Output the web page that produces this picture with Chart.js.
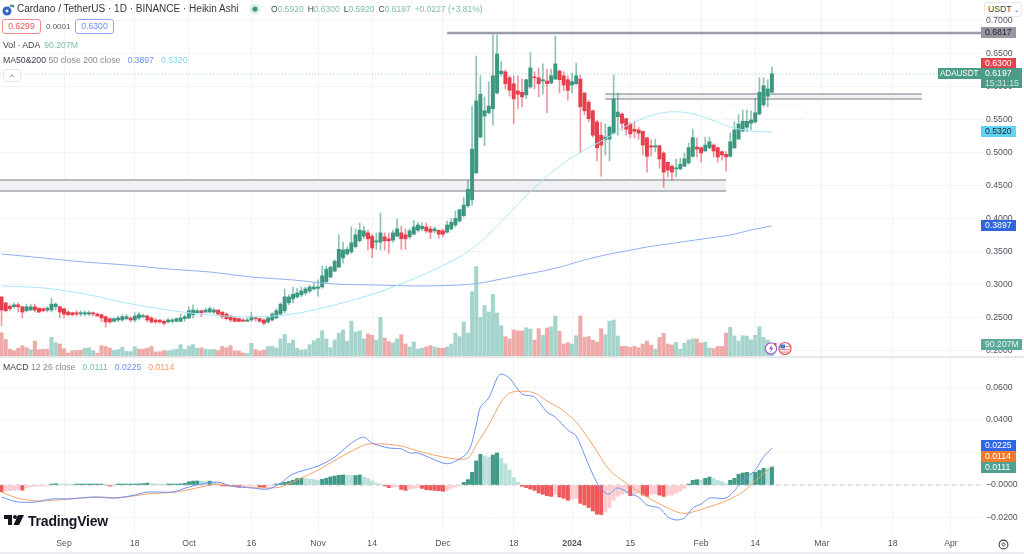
<!DOCTYPE html>
<html>
<head>
<meta charset="utf-8">
<script src="https://cdn.jsdelivr.net/npm/chart.js@4/dist/chart.umd.js"></script>
<style>
  html, body { margin: 0; padding: 0; background: #fff; }
  body { width: 1024px; height: 554px; overflow: hidden; position: relative; font-family: "Liberation Sans", sans-serif; color: #3c3f4a; }
  canvas { position: absolute; left: 0; top: 0; }
  .t { position: absolute; white-space: nowrap; font-size: 8.7px; line-height: 12px; }
  .tag { position: absolute; font-size: 8.7px; line-height: 11px; height: 11px; padding-left: 4px; color: #fff; white-space: nowrap; }
  .box { position: absolute; box-sizing: border-box; border-radius: 3px; font-size: 8.7px; line-height: 13px; text-align: center; background: #fff; }
  .gl { color: #7fbcae; } .b { color: #6c8ff5; } .c { color: #7fd8f5; } .o { color: #f59a5c; } .m { color: #85888f; }
  .sp { margin-left: 4px; }
  .sw { margin-left: 7px; }
  #drawnBox { position: absolute; left: 723px; top: 105px; width: 82px; height: 13px; border-radius: 3px; box-shadow: 0 0 2px #e2e3e6; background: #fff; }
  #sep { position: absolute; left: 0; top: 356px; width: 1024px; height: 2px; background: #e7e7e9; }
  #foot { position: absolute; left: 0; top: 552px; width: 1024px; height: 2px; background: #eceef2; }
</style>
</head>
<body>
<div id="drawnBox"></div>
<canvas id="chart" width="1024" height="554"></canvas>
<div id="sep"></div>
<div id="foot"></div>

<svg style="position:absolute;left:2px;top:3px" width="13" height="13" viewBox="0 0 13 13">
  <circle cx="5" cy="8" r="4.5" fill="#3567c8"/><circle cx="5" cy="8" r="1.4" fill="#fff"/>
  <path d="M7 3 A4 4 0 0 1 12 2 L12 5 A3 3 0 0 0 9 4 Z" fill="#3f9a8a"/>
</svg>
<div class="t" style="left:17px;top:2px;font-size:10px;line-height:14px;color:#33353d">Cardano / TetherUS · 1D · BINANCE · Heikin Ashi</div>
<svg style="position:absolute;left:249px;top:3px" width="12" height="12"><circle cx="6" cy="6" r="5.5" fill="#dff0ec"/><circle cx="6" cy="6" r="2.6" fill="#3d9882"/></svg>
<div class="t" style="left:271px;top:3px;font-size:8.5px;color:#44464f">O<span class="gl">0.5920</span><span class="sp">H</span><span class="gl">0.6300</span><span class="sp">L</span><span class="gl">0.5920</span><span class="sp">C</span><span class="gl">0.6197</span><span class="gl sp">+0.0227 (+3.81%)</span></div>
<div class="box" style="left:2px;top:19px;width:39px;height:15px;border:1px solid #ef8c90;color:#ea5c62">0.6299</div>
<div class="t" style="left:46px;top:21px;font-size:8px;color:#55575f">0.0001</div>
<div class="box" style="left:75px;top:19px;width:39px;height:15px;border:1px solid #8ca6f7;color:#6c8ff5">0.6300</div>
<div class="t" style="left:3px;top:39px">Vol · ADA<span class="gl sp">90.207M</span></div>
<div class="t" style="left:3px;top:54px">MA50&amp;200 <span class="m">50 close 200 close</span><span class="b sw">0.3897</span><span class="c sw">0.5320</span></div>
<div class="box" style="left:3px;top:69px;width:18px;height:13px;border:1px solid #e6e7ea;color:#55575f;line-height:14px;font-size:8px">^</div>
<div class="t" style="left:3px;top:361px">MACD <span class="m">12 26 close</span><span class="gl sw">0.0111</span><span class="b sw">0.0225</span><span class="o sw">0.0114</span></div>

<div class="box" style="left:984px;top:2px;width:38px;height:15px;border:1px solid #e6e7ea;color:#44464f;text-align:left;padding-left:3px">USDT <span style="font-size:6px">⌄</span></div>
<div class="tag" style="left:981px;top:27px;width:31px;background:#9598a1;color:#26282f">0.6817</div>
<div class="tag" style="left:981px;top:58px;width:31px;background:#e5414d">0.6300</div>
<div class="tag" style="left:938px;top:68px;width:41px;background:#4b9c87;padding-left:2px;font-size:8.2px;letter-spacing:-0.1px">ADAUSDT</div>
<div class="tag" style="left:981px;top:68px;width:37px;height:20px;background:#4b9c87;line-height:10px">0.6197<br><span style="color:#cfe6df">15:31:15</span></div>
<div class="tag" style="left:981px;top:126px;width:31px;background:#62d3f7;color:#21232a">0.5320</div>
<div class="tag" style="left:981px;top:220px;width:31px;background:#2f66e0">0.3897</div>
<div class="tag" style="left:981px;top:339px;width:37px;background:#5aa99a;color:#e4f3ef">90.207M</div>
<div class="tag" style="left:981px;top:440px;width:31px;background:#2f66e9">0.0225</div>
<div class="tag" style="left:981px;top:451px;width:31px;background:#f27a2a">0.0114</div>
<div class="tag" style="left:981px;top:462px;width:31px;background:#4f9f92">0.0111</div>

<svg style="position:absolute;left:764px;top:341px" width="30" height="15" viewBox="0 0 30 15">
  <circle cx="7" cy="7.5" r="5.6" fill="#fff" stroke="#a05cc8" stroke-width="1.2"/>
  <path d="M8 3.5 L5 8 L7 8 L6 11.5 L9.5 6.8 L7.5 6.8 Z" fill="#a05cc8"/>
  <circle cx="11.5" cy="3" r="1.2" fill="#e5414d"/>
  <circle cx="21" cy="7.5" r="6" fill="#fff" stroke="#e5505a" stroke-width="1.2"/>
  <rect x="16" y="5" width="10" height="1.2" fill="#ee8d92"/><rect x="16" y="8" width="10" height="1.2" fill="#ee8d92"/><rect x="17" y="10.5" width="8" height="1.2" fill="#ee8d92"/>
  <rect x="16.5" y="3.5" width="4.5" height="4" fill="#4a78d8"/>
</svg>

<svg style="position:absolute;left:4px;top:514px" width="20" height="13" viewBox="0 0 20 13">
  <path d="M0 1 H8 V11 H4 V5 H0 Z" fill="#131722"/><circle cx="11" cy="3" r="2" fill="#131722"/><path d="M14 1 H20 L15 11 H9.5 Z" fill="#131722"/>
</svg>
<div class="t" style="left:28px;top:513px;font-size:14px;line-height:17px;font-weight:700;color:#131722;letter-spacing:-0.2px">TradingView</div>
<svg style="position:absolute;left:998px;top:539px" width="11" height="11"><circle cx="5.5" cy="5.5" r="4.4" fill="none" stroke="#44464f" stroke-width="1.1"/><circle cx="5.5" cy="5.5" r="1.5" fill="none" stroke="#44464f"/></svg>

<script>
// Day numbers count from 1 Sep 2023, first candle sits on day -15
var firstDay = -15;
var tickDays = [0, 17, 30, 45, 61, 74, 91, 108, 122, 136, 153, 166, 182, 199, 213];
var tickLabels = ['Sep', '18', 'Oct', '16', 'Nov', '14', 'Dec', '18', '2024', '15', 'Feb', '14', 'Mar', '18', 'Apr'];
var priceTicks = [0.7, 0.65, 0.6, 0.55, 0.5, 0.45, 0.4, 0.35, 0.3, 0.25, 0.2];
var macdTicks = [0.06, 0.04, 0.02, 0, -0.02];

var opens = [
  .282,.273,.268,.267,.270,.267,.261,.262,.267,.265,.264,.262,.262,.267,.267,
  .264,.259,.258,.258,.256,.256,.256,.258,.256,.255,.252,.249,.245,.247,.247,.249,
  .250,.247,.250,.252,.253,.250,.247,.247,.245,.244,.245,.245,.245,.249,.250,.255,
  .258,.261,.259,.259,.259,.262,.259,.256,.253,.250,.249,.247,.245,.247,.250,.249,.247,.244,.247,.250,.256,.261,
  .273,.279,.282,.285,.288,.291,.294,.295,.297,.305,.312,.321,.327,.341,.347,.350,.358,.367,.374,
  .379,.374,.365,.365,.373,.370,.368,.374,.379,.376,.373,.377,.383,.385,.388,.385,.382,.383,.382,
  .380,.385,.391,.397,.405,.420,.429,.470,.524,.556,.561,.567,.591,.620,
  .623,.614,.605,.594,.592,.588,.600,.615,.614,.609,.609,.606,.612,.624,.617,.611,.603,.605,.612,.591,.577,.564,.547,.527,.520,.521,.530,.555,
  .559,.552,.544,.536,.535,.533,.523,.511,.509,.511,.500,.486,.480,.476,.476,.480,.485,.495,.509,.508,.503,.508,.512,.508,.502,.498,.495,.508,.521,.533,.539,.545,.547,.559,.573,.586,.592
];
var closes = [
  .262,.261,.264,.270,.267,.259,.267,.267,.262,.259,.261,.265,.271,.271,.259,
  .256,.255,.255,.256,.258,.258,.258,.256,.253,.250,.244,.244,.249,.250,.252,.252,
  .247,.253,.255,.253,.247,.244,.244,.244,.242,.247,.247,.249,.250,.252,.261,.262,
  .261,.258,.262,.264,.262,.256,.252,.249,.247,.245,.245,.245,.247,.252,.249,.245,.242,.250,.256,.261,.271,.282,
  .282,.286,.288,.291,.294,.297,.297,.297,.314,.324,.327,.336,.354,.353,.354,.364,.376,.383,.382,
  .370,.356,.367,.379,.367,.367,.379,.385,.370,.370,.382,.388,.391,.389,.382,.380,.385,.377,.377,
  .391,.395,.401,.414,.421,.445,.506,.579,.589,.564,.571,.617,.650,.624,
  .605,.595,.582,.589,.585,.611,.629,.614,.605,.611,.605,.617,.635,.611,.603,.595,.608,.617,.570,.564,.552,.527,.508,.512,.524,.539,.582,.562,
  .545,.536,.529,.533,.530,.512,.495,.509,.511,.491,.471,.474,.471,.477,.483,.491,.508,.523,.506,.500,.512,.517,.503,.494,.497,.494,.517,.535,.544,.548,.548,.550,.561,.592,.602,.597,.620
];
var highs = [
  .282,.274,.270,.273,.273,.268,.271,.271,.271,.265,.265,.267,.280,.273,.268,
  .265,.261,.259,.261,.261,.261,.261,.259,.258,.256,.253,.250,.250,.253,.255,.255,
  .252,.258,.258,.256,.255,.252,.249,.247,.247,.249,.249,.250,.256,.255,.267,.270,
  .264,.262,.265,.267,.265,.262,.259,.258,.253,.252,.250,.249,.250,.259,.252,.250,.249,.252,.258,.264,.273,.294,
  .285,.297,.295,.297,.297,.300,.303,.308,.329,.329,.329,.338,.376,.365,.358,.388,.385,.394,.389,
  .383,.377,.379,.409,.379,.379,.383,.400,.389,.385,.385,.398,.395,.394,.394,.389,.388,.383,.385,
  .397,.401,.412,.415,.433,.459,.571,.647,.617,.585,.608,.679,.679,.639,
  .626,.617,.617,.617,.612,.612,.652,.623,.629,.635,.627,.627,.677,.626,.623,.617,.621,.636,.618,.591,.580,.565,.550,.547,.544,.541,.618,.591,
  .561,.553,.546,.548,.539,.533,.524,.520,.521,.511,.502,.486,.482,.491,.492,.500,.515,.536,.523,.509,.524,.524,.514,.509,.503,.502,.530,.547,.558,.565,.565,.564,.583,.614,.614,.611,.630
];
var lows = [
  .238,.259,.261,.265,.259,.250,.259,.262,.259,.258,.259,.259,.259,.262,.250,
  .250,.253,.253,.253,.253,.253,.254,.253,.253,.244,.236,.242,.244,.244,.245,.247,
  .244,.244,.247,.250,.244,.242,.242,.242,.239,.242,.242,.244,.244,.245,.249,.250,
  .258,.252,.258,.258,.256,.255,.249,.247,.244,.244,.244,.245,.245,.245,.245,.244,.239,.242,.245,.249,.255,.258,
  .270,.273,.280,.282,.285,.288,.292,.283,.295,.303,.311,.320,.327,.333,.345,.348,.356,.365,.370,
  .353,.341,.354,.353,.353,.348,.365,.373,.354,.354,.370,.376,.380,.382,.379,.370,.379,.371,.373,
  .379,.383,.388,.395,.403,.418,.421,.468,.523,.511,.559,.542,.589,.617,
  .597,.586,.544,.567,.570,.582,.598,.597,.585,.589,.561,.605,.611,.591,.594,.580,.591,.603,.500,.558,.547,.524,.488,.465,.497,.488,.529,.527,
  .535,.527,.523,.523,.521,.497,.471,.495,.502,.477,.448,.464,.459,.464,.474,.479,.483,.494,.494,.486,.503,.506,.494,.486,.489,.473,.494,.506,.521,.532,.532,.535,.545,.558,.570,.570,.592
];

// volume in millions, volumeSide holds g or r per candle
var volumes = [
  175,125,52,40,58,78,62,48,112,48,50,52,140,100,90,55,22,40,42,45,58,62,40,20,78,72,60,42,48,65,35,32,70,52,52,58,72,30,32,40,
  38,45,52,85,50,75,85,58,62,52,48,50,40,72,62,78,38,38,22,20,95,48,38,45,70,72,60,128,162,95,120,58,45,48,85,115,132,190,128,62,120,172,
  195,110,262,180,188,128,165,155,120,290,135,108,98,128,160,90,68,105,52,60,68,78,68,60,58,68,90,170,145,255,172,482,670,290,378,330,
  462,322,228,145,128,195,188,188,212,202,120,205,155,210,218,300,185,90,100,90,152,300,140,145,118,105,205,160,262,270,
  150,72,72,65,72,62,90,112,80,52,138,170,90,82,102,52,95,120,128,128,98,105,60,55,72,72,172,215,150,112,152,150,122,155,220,140,120,90.207
];
var volumeSide = [
  'rrrrrrrgrrrrggrrrrrrgggrrrrggggggrrrrrrrggggggggrgggrrrrrrrggrrrgggggggggggggggggg',
  'gggggg', 'rrggrrggrr', 'ggggrrgrrg', 'gggggggggg', 'gggrrrrrgg', 'rrgrggrrrg',
  'grrrrrrggg', 'grrrrrrrrg', 'rrrrgggggr', 'rggrrrrggg', 'gggggggg'
].join('');

var maDays = [-15,-5,5,15,25,35,45,55,65,75,85,95,100,105,110,115,120,125,130,135,140,145,150,155,160,165,170];
var ma50 = [.2985,.2955,.2864,.2727,.2621,.2545,.2515,.2561,.2697,.2879,.3121,.3424,.3652,.3955,.4288,.4591,.4848,.5045,.5212,.5409,.5545,.5621,.5606,.5515,.5394,.5333,.5320];
var ma200 = [.3470,.3409,.3348,.3303,.3242,.3197,.3121,.3076,.3015,.3000,.2985,.3000,.3030,.3091,.3152,.3212,.3288,.3379,.3455,.3515,.3576,.3621,.3667,.3712,.3758,.3833,.3897];

var macdDays = [-15,-13,-11,-7,-3,1,7,12,17,20,26,30,33,37,40,45,49,52,55,61,65,69,72,74,78,81,83,85,91,93,97,99,100,102,104,105,107,110,113,116,118,121,123,125,128,130,131,133,136,138,140,143,145,147,149,151,153,155,159,162,164,166,168,170];
var macdLine = [-.0074,-.0092,-.0105,-.0105,-.0086,-.0086,-.0074,-.0080,-.0062,-.0043,-.0043,-.0012,.0006,.0018,-.0006,-.0018,-.0025,.0012,.0068,.0117,.0172,.0258,.0295,.0258,.0228,.0222,.0197,.0197,.0135,.0135,.0203,.0369,.0480,.0535,.0658,.0683,.0658,.0560,.0542,.0449,.0418,.0338,.0302,.0185,.0012,-.0049,-.0055,-.0018,-.0055,-.0074,-.0123,-.0142,-.0197,-.0215,-.0203,-.0142,-.0117,-.0080,-.0080,-.0006,.0049,.0092,.0172,.0225];
var signalDays = [-15,-12,-9,-5,1,9,13,20,27,33,37,41,47,52,57,61,66,71,73,77,81,85,90,94,97,99,102,105,107,110,113,116,119,123,127,131,135,140,145,148,150,154,159,163,167,170];
var signalLine = [-.0043,-.0074,-.0092,-.0098,-.0086,-.0074,-.0080,-.0055,-.0043,-.0012,.0006,-.0006,-.0018,-.0012,.0043,.0092,.0166,.0234,.0252,.0252,.0240,.0209,.0178,.0160,.0166,.0246,.0369,.0511,.0566,.0578,.0566,.0517,.0474,.0388,.0246,.0092,.0012,-.0074,-.0142,-.0172,-.0172,-.0142,-.0098,-.0043,.0049,.0114];
var histogram = [
  -.0041,-.0037,-.0035,-.0033,-.0029,-.0032,-.0017,-.0012,-.0008,-.0006,-.0004,-.0002,.0005,.0008,.0004,
  .0003,.0002,.0001,.0001,.0002,.0003,.0004,.0005,.0005,.0006,.0004,-.0002,-.0001,.0001,.0003,.0004,
  .0005,.0006,.0007,.0009,.0012,.0010,.0006,.0005,.0004,.0004,.0005,.0006,.0007,.0010,.0020,.0024,
  .0025,.0023,.0022,.0024,.0018,.0008,-.0003,-.0005,-.0006,-.0010,-.0014,-.0008,-.0004,-.0002,-.0002,-.0012,-.0014,-.0006,-.0002,.0003,
  .0010,.0017,.0022,.0030,.0040,.0042,.0040,.0036,.0033,.0030,.0035,.0042,.0050,.0055,.0060,.0062,.0060,.0058,.0058,.0062,
  .0050,.0040,.0025,.0012,.0005,-.0004,-.0016,-.0014,-.0012,
  -.0027,-.0033,-.0025,-.0021,-.0016,-.0021,-.0029,-.0031,-.0033,-.0035,-.0039,-.0033,-.0021,-.0012,-.0004,.0016,.0033,.0078,.0148,.0189,.0180,.0172,.0185,.0197,.0164,.0131,.0092,.0045,.0016,
  -.0008,-.0016,-.0025,-.0033,-.0049,-.0057,-.0066,-.0070,-.0057,-.0074,-.0082,-.0094,-.0086,-.0082,-.0113,-.0123,-.0139,-.0160,-.0180,-.0182,-.0164,-.0139,-.0094,-.0070,-.0057,-.0049,-.0066,-.0057,-.0049,-.0062,-.0070,-.0057,-.0053,-.0062,-.0070,-.0066,-.0062,-.0049,-.0037,-.0021,
  .0004,.0029,.0033,.0031,.0041,.0049,.0041,.0029,.0021,.0008,.0029,.0041,.0066,.0074,.0078,.0070,.0078,.0090,.0103,.0100,.0111
];

// Drawn levels: price, from day, to day
var topLevel = [0.6817, 92, 221];
var zoneLow = [0.4591, 0.4424, -16, 159];
var zoneHigh = [0.5894, 0.5818, 130, 206];
var lastClose = 0.6197;

var xMin = -15.37, xMax = 220.7;
var priceMin = 0.1909, priceMax = 0.7318;
var macdMin = -0.02954, macdMax = 0.0788;
var volMin = -1327.5, volMax = 2670;

var upColor = '#3d9882', downColor = '#e5404e';

function points(days, values) {
  return values.map(function(v, i) { return { x: days[i], y: v }; });
}

function candleRange(a, b) {
  return a.map(function(v, i) { return { x: firstDay + i, y: [v, b[i]] }; });
}

var candleColors = closes.map(function(c, i) { return c >= opens[i] ? upColor : downColor; });
var wickColors = closes.map(function(c, i) { return c >= opens[i] ? 'rgba(61,152,130,0.58)' : 'rgba(229,64,78,0.55)'; });
var volumeColors = volumes.map(function(v, i) { return volumeSide.charAt(i) === 'g' ? '#a5d4cc' : '#eeaaa8'; });
var histColors = histogram.map(function(v, i) {
  var prev = i ? histogram[i - 1] : 0;
  if (v >= 0) return v >= prev ? '#3f9a88' : '#b9e0d9';
  return v < prev ? '#f0595c' : '#fbcdd1';
});

function barSet(data, colors, width, axis, order) {
  return {
    type: 'bar', data: data, yAxisID: axis, backgroundColor: colors,
    barThickness: width, grouped: false, order: order, minBarLength: 1, borderWidth: 0
  };
}

function lineSet(data, color, axis, width, order, dash, tension) {
  return {
    type: 'line', data: data, yAxisID: axis, borderColor: color, borderWidth: width,
    pointRadius: 0, order: order, borderDash: dash || [], tension: tension === undefined ? 0.3 : tension
  };
}

// Rectangles and lines the chart author drew on top of the price pane
var levelPlugin = {
  id: 'levels',
  beforeDatasetsDraw: function(chart) {
    var ctx = chart.ctx, x = chart.scales.x, y = chart.scales.yPrice;
    function zone(z) {
      var left = x.getPixelForValue(z[2]), right = x.getPixelForValue(z[3]);
      var top = y.getPixelForValue(z[0]), bottom = y.getPixelForValue(z[1]);
      ctx.fillStyle = '#f0f1f3';
      ctx.fillRect(left, top, right - left, bottom - top);
      ctx.strokeStyle = '#a3a5ae';
      ctx.lineWidth = 1.4;
      ctx.beginPath();
      ctx.moveTo(left, top); ctx.lineTo(right, top);
      ctx.moveTo(left, bottom); ctx.lineTo(right, bottom);
      ctx.stroke();
    }
    ctx.save();
    zone(zoneLow);
    zone(zoneHigh);
    ctx.strokeStyle = '#9a9ca6';
    ctx.lineWidth = 2.6;
    ctx.beginPath();
    ctx.moveTo(x.getPixelForValue(topLevel[1]), y.getPixelForValue(topLevel[0]));
    ctx.lineTo(x.getPixelForValue(topLevel[2]), y.getPixelForValue(topLevel[0]));
    ctx.stroke();
    ctx.restore();
  }
};

function fixedTicks(values) {
  return function(axis) {
    axis.ticks = values.map(function(v) { return { value: v }; });
  };
}

function axisFont() {
  return { family: '"Liberation Sans", sans-serif', size: 8.7 };
}

// Axes fill the canvas edge to edge, no room left for label overhang
function fitRight(axis) {
  axis.width = 41;
  axis.paddingTop = 0;
  axis.paddingBottom = 0;
}

new Chart(document.getElementById('chart').getContext('2d'), {
  type: 'bar',
  data: {
    datasets: [
      barSet(volumes.map(function(v, i) { return { x: firstDay + i, y: v }; }), volumeColors, 3.4, 'yVolume', 9),
      lineSet([{ x: xMin, y: lastClose }, { x: xMax, y: lastClose }], '#a4d6ca', 'yPrice', 1, 8, [1, 2], 0),
      barSet(candleRange(lows, highs), wickColors, 1, 'yPrice', 5),
      barSet(candleRange(opens, closes), candleColors, 3.3, 'yPrice', 4),
      lineSet(points(maDays, ma50), '#a8e6fb', 'yPrice', 1, 3),
      lineSet(points(maDays, ma200), '#8fb0f0', 'yPrice', 1, 3),
      lineSet([{ x: xMin, y: 0 }, { x: xMax, y: 0 }], '#c9cbd1', 'yMacd', 1, 8, [4, 4], 0),
      barSet(histogram.map(function(v, i) { return { x: firstDay + i, y: v }; }), histColors, 3.4, 'yMacd', 7),
      lineSet(points(macdDays, macdLine), '#6f92f5', 'yMacd', 1, 2),
      lineSet(points(signalDays, signalLine), '#f4a36a', 'yMacd', 1, 3)
    ]
  },
  plugins: [levelPlugin],
  options: {
    responsive: false,
    animation: false,
    events: [],
    layout: { padding: 0 },
    plugins: { legend: { display: false }, tooltip: { enabled: false } },
    scales: {
      x: {
        type: 'linear', min: xMin, max: xMax, offset: false,
        grid: { color: '#f3f3f5', offset: false, drawTicks: false },
        border: { display: false },
        afterBuildTicks: fixedTicks(tickDays),
        afterFit: function(axis) { axis.height = 21; axis.paddingLeft = 0; axis.paddingRight = 0; },
        ticks: {
          autoSkip: false, maxRotation: 0, padding: 5, color: '#50535e',
          font: function(ctx) {
            var f = axisFont();
            if (ctx.tick && ctx.tick.value === 122) f.weight = 'bold';
            return f;
          },
          callback: function(v) { return tickLabels[tickDays.indexOf(v)]; }
        }
      },
      yPrice: {
        type: 'linear', position: 'right', stack: 'panes', stackWeight: 357, weight: 1,
        min: priceMin, max: priceMax,
        grid: { color: '#f5f5f6', drawTicks: false },
        border: { display: false },
        afterBuildTicks: fixedTicks(priceTicks),
        afterFit: fitRight,
        ticks: { padding: 3, color: '#50535e', font: axisFont(), autoSkip: false, callback: function(v) { return v.toFixed(4); } }
      },
      yMacd: {
        type: 'linear', position: 'right', stack: 'panes', stackWeight: 176, weight: 2,
        min: macdMin, max: macdMax,
        grid: { color: '#f5f5f6', drawTicks: false },
        border: { display: false },
        afterBuildTicks: fixedTicks(macdTicks),
        afterFit: fitRight,
        ticks: {
          padding: 3, color: '#50535e', font: axisFont(), autoSkip: false,
          callback: function(v) { return v <= 0 ? '\u2212' + Math.abs(v).toFixed(4) : v.toFixed(4); }
        }
      },
      yVolume: { type: 'linear', position: 'right', display: false, min: volMin, max: volMax }
    }
  }
});
</script>
</body>
</html>
